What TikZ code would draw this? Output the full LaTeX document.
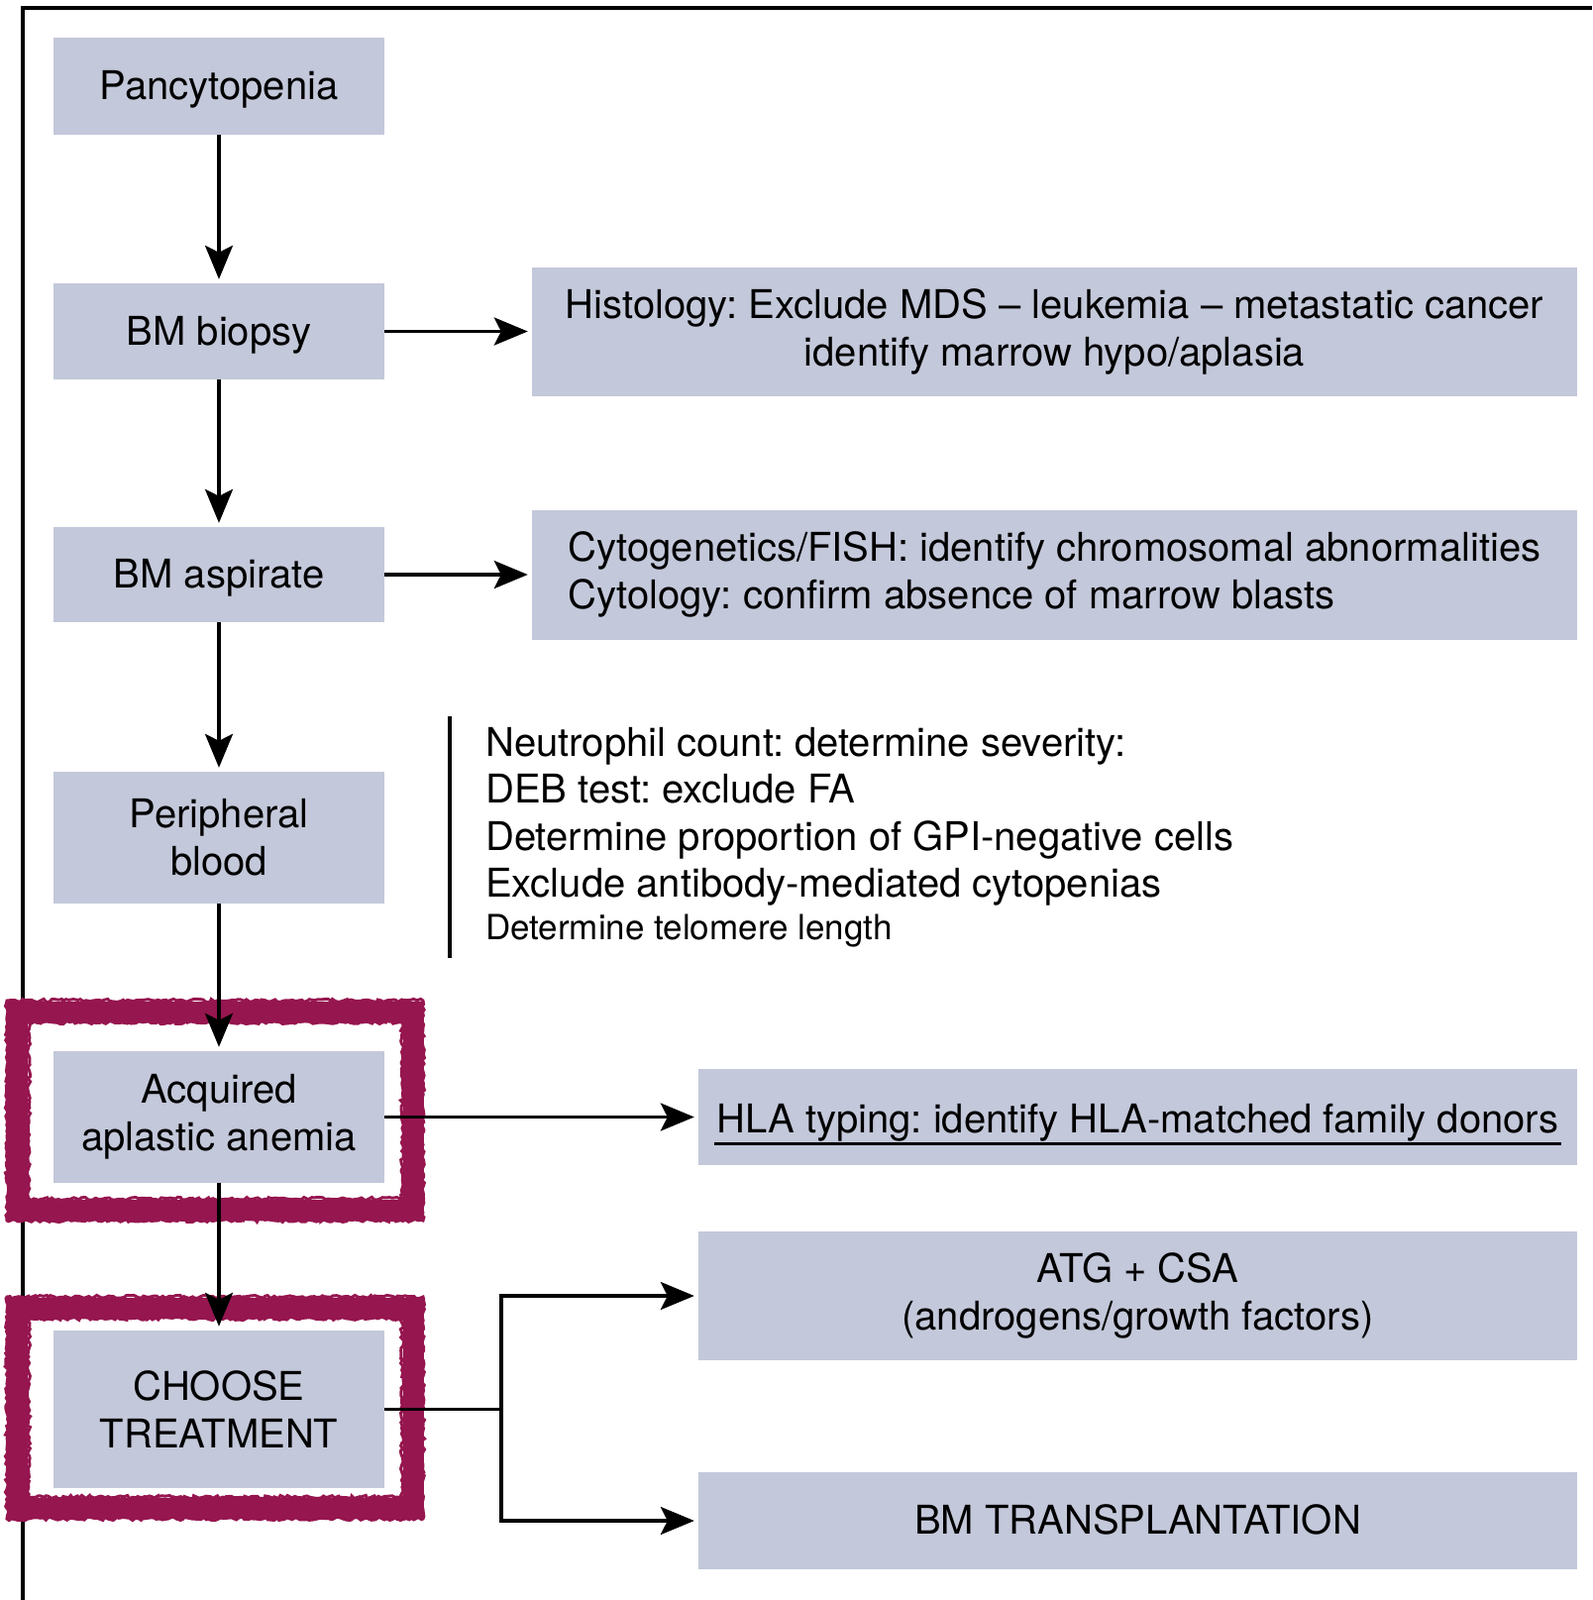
\documentclass[tikz,border=0pt]{standalone}
\usepackage{fontspec}
\setmainfont{TeX Gyre Heros}
\usetikzlibrary{arrows.meta,decorations.pathmorphing,calc}
\definecolor{boxfill}{HTML}{C3C8DA}
\definecolor{hilite}{HTML}{96164F}
\frenchspacing
\begin{document}
\begin{tikzpicture}[x=1pt,y=1pt,
  box/.style={fill=boxfill, draw=none, inner sep=0pt, align=center,
    font=\fontsize{40}{48}\selectfont},
  oneline/.style={text height=27pt, text depth=0pt},
  leftbox/.style={box, minimum width=334pt},
  rightbox/.style={box, minimum width=887pt},
  arr/.style={line width=3.5pt, -{Stealth[length=34pt,width=28pt,inset=7pt]}, shorten >=4pt},
  ln/.style={line width=3.5pt},
  note/.style={inner sep=0pt, anchor=base west, font=\fontsize{40}{48}\selectfont},
  rough/.style={hilite, line width=3pt, decorate,
    decoration={random steps, segment length=3pt, amplitude=1.6pt}},
  band/.style={hilite, line width=21pt}
]
\useasboundingbox (0,0) rectangle (1607,-1615);

% frame
\draw[line width=4pt] (23,-1615) -- (23,-8) -- (1607,-8);

% left column
\node[leftbox, oneline, minimum height=98pt]  (pan) at (221,-87)    {Pancytopenia};
\node[leftbox, oneline, minimum height=97pt]  (bio) at (221,-334.5) {BM biopsy};
\node[leftbox, oneline, minimum height=96pt]  (asp) at (221,-580)   {BM aspirate};
\node[leftbox, minimum height=133pt] (per) at (221,-845.5) {Peripheral\\blood};
\node[leftbox, minimum height=133pt] (acq) at (221,-1127.5) {Acquired\\aplastic anemia};
\node[leftbox, minimum height=159pt] (cho) at (221,-1422.5) {CHOOSE\\TREATMENT};

% right column
\node[box, minimum width=1055pt, minimum height=130pt] (his) at (1064.5,-334.5)
  {Histology: Exclude MDS \textendash{} leukemia \textendash{} metastatic cancer\\identify marrow hypo/aplasia};
\node[box, align=left, minimum width=1055pt, minimum height=131pt] (cyt) at (1064.5,-580)
  {Cytogenetics/FISH: identify chromosomal abnormalities\\Cytology: confirm absence of marrow blasts};
\node[rightbox, text height=32pt, text depth=0pt, minimum height=97pt] (hla) at (1148.5,-1127.5)
  {HLA typing: identify HLA-matched family donors};
\node[rightbox, minimum height=130pt] (atg) at (1148.5,-1308)
  {ATG + CSA\\(androgens/growth factors)};
\node[rightbox, oneline, minimum height=98pt] (bmt) at (1148.5,-1535)
  {BM TRANSPLANTATION};

% underline in HLA box
\coordinate (ula) at ($(hla.south west)+(16,22)$);
\coordinate (ulb) at ($(hla.south east)+(-16,22)$);
\draw[line width=3pt] (ula) -- (ulb);

% notes for peripheral blood
\coordinate (bart) at (454,-723);
\coordinate (barb) at (454,-967);
\draw[ln] (bart) -- (barb);
\node[note] (n1) at (490,-763)   {Neutrophil count: determine severity:};
\node[note] (n2) at (490,-810.5) {DEB test: exclude FA};
\node[note] (n3) at (490,-858)   {Determine proportion of GPI-negative cells};
\node[note] (n4) at (490,-905.5) {Exclude antibody-mediated cytopenias};
\node[note, font=\fontsize{35}{42}\selectfont] (n5) at (490,-948) {Determine telomere length};

% highlight boxes
\draw[band] (17.5,-1021) rectangle (417,-1221);
\draw[rough] (7,-1010) rectangle (427,-1232);
\draw[rough] (29,-1032) rectangle (406,-1210);
\draw[band] (17.5,-1320) rectangle (417,-1522);
\draw[rough] (7,-1309) rectangle (427,-1533);
\draw[rough] (29,-1331) rectangle (406,-1511);

% connectors
\draw[arr] (pan) -- (bio);
\draw[arr] (bio) -- (asp);
\draw[arr] (asp) -- (per);
\draw[arr] (per) -- (acq);
\draw[arr] (acq) -- (cho);
\draw[arr] (bio) -- (his);
\draw[arr] (asp) -- (cyt);
\draw[arr] (acq) -- (hla);
\coordinate (br) at (506,-1422.5);
\draw[ln] (cho.east) -- (br);
\draw[arr] (br) |- (atg.west);
\draw[arr] (br) |- (bmt.west);
\end{tikzpicture}
\end{document}
